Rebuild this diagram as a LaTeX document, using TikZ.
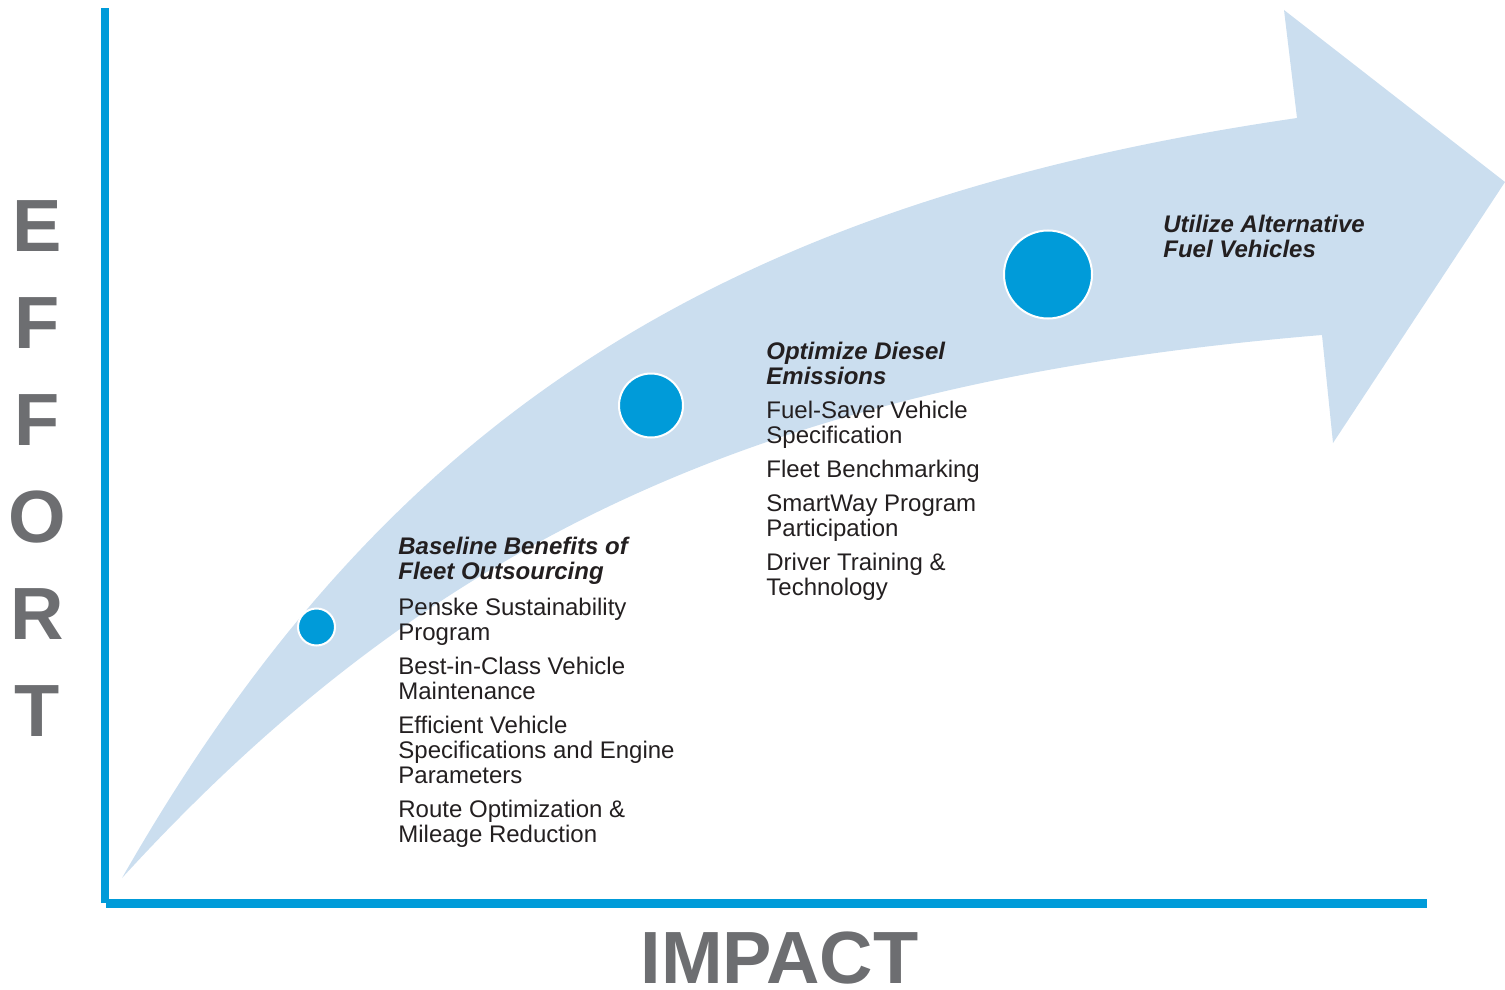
\documentclass[tikz,border=0pt]{standalone}
\usepackage{fontspec}
\setmainfont{Liberation Sans}
\usepackage{xcolor}
\definecolor{axisblue}{RGB}{0,155,217}
\definecolor{arrowfill}{RGB}{203,222,239}
\definecolor{labelgray}{RGB}{109,110,113}
\definecolor{textdark}{RGB}{35,31,32}
\newcommand{\hd}[1]{{\bfseries\itshape #1}}

\begin{document}
\begin{tikzpicture}[x=0.5pt,y=-0.5pt,
	milestone/.style={circle, fill=axisblue, draw=white, line width=1pt, inner sep=0pt},
	itemtext/.style={anchor=north west, inner sep=0pt, align=left, text=textdark, font=\fontsize{12}{12.5}\selectfont},
	axislabel/.style={inner sep=0pt, text=labelgray, font=\fontsize{37}{48.5}\selectfont\bfseries}]
	\useasboundingbox (0,0) rectangle (1505,990);
	
	\fill[arrowfill] (122,878) .. controls (375,435) and (700,205) .. (1297,118)
		-- (1284,10) -- (1505,182) -- (1333,443) -- (1322,335)
		.. controls (780,380) and (440,530) .. (122,878) -- cycle;
	
	\coordinate (origin) at (105,903);
	\coordinate (ytop) at (105,8);
	\coordinate (xstart) at (106,903);
	\coordinate (xend) at (1427,903);
	\draw[axisblue, line width=4pt] (origin) -- (ytop);
	\draw[axisblue, line width=4.5pt] (xstart) -- (xend);
	
	\node[milestone, minimum size=18.5pt] (stepA) at (316.5,627) {};
	\node[milestone, minimum size=32pt] (stepB) at (651,405.5) {};
	\node[milestone, minimum size=44pt] (stepC) at (1048,274.5) {};
	
	\node[itemtext] (baseline) at (398,537) {\hd{Baseline Benefits of}\\\hd{Fleet Outsourcing}\\[5.5pt]
		Penske Sustainability\\Program\\[4.5pt]
		Best-in-Class Vehicle\\Maintenance\\[4.5pt]
		Efficient Vehicle\\Specifications and Engine\\Parameters\\[4.5pt]
		Route Optimization \&\\Mileage Reduction};
	\node[itemtext] (diesel) at (766,342) {\hd{Optimize Diesel}\\\hd{Emissions}\\[4.5pt]
		Fuel-Saver Vehicle\\Specification\\[4.5pt]
		Fleet Benchmarking\\[4.5pt]
		SmartWay Program\\Participation\\[4.5pt]
		Driver Training \&\\Technology};
	\node[itemtext] (altfuel) at (1163,215) {\hd{Utilize Alternative}\\\hd{Fuel Vehicles}};
	
	\node[axislabel, anchor=north, align=center] (effort) at (37,200) {E\\F\\F\\O\\R\\T};
	\node[axislabel, anchor=base] (impact) at (779.5,983) {IMPACT};
\end{tikzpicture}
\end{document}
